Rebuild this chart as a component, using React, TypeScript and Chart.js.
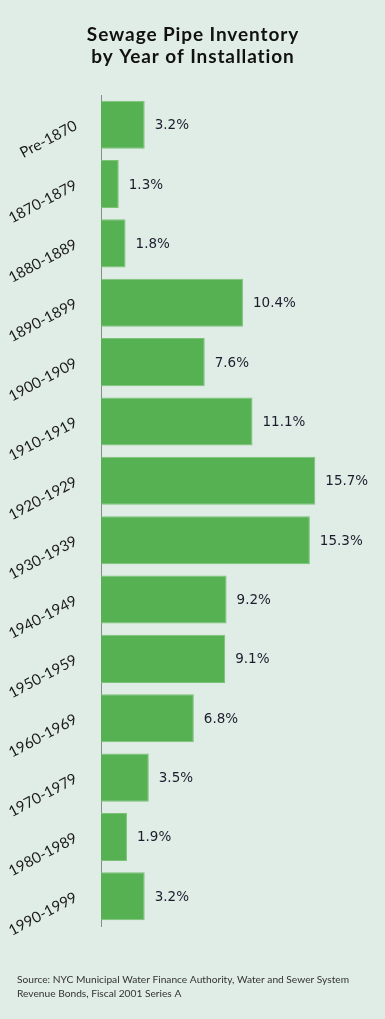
import React, { useEffect, useRef } from "react";
import { Chart, registerables } from "chart.js";

Chart.register(...registerables);

const categories = [
  "Pre-1870", "1870-1879", "1880-1889", "1890-1899", "1900-1909", "1910-1919", "1920-1929",
  "1930-1939", "1940-1949", "1950-1959", "1960-1969", "1970-1979", "1980-1989", "1990-1999",
];
const percentages = [3.2, 1.3, 1.8, 10.4, 7.6, 11.1, 15.7, 15.3, 9.2, 9.1, 6.8, 3.5, 1.9, 3.2];
const titleLines = ["Sewage Pipe Inventory", "by Year of Installation"];
const sourceLines = [
  "Source: NYC Municipal Water Finance Authority, Water and Sewer System",
  "Revenue Bonds, Fiscal 2001 Series A",
];

const BG = "#e0ede6";
const BAR = "#56b152";

const textPlugin = {
  id: "texts",
  afterDatasetsDraw(chart: any) {
    const ctx = chart.ctx;
    ctx.save();
    // value labels
    const meta = chart.getDatasetMeta(0);
    ctx.font = "13.5px 'DejaVu Sans'";
    ctx.fillStyle = "#1c1c2c";
    ctx.textAlign = "left";
    ctx.textBaseline = "middle";
    meta.data.forEach((bar: any, i: number) => {
      ctx.fillText(percentages[i].toFixed(1) + "%", bar.x + 10, bar.y + 1);
    });
    // title
    ctx.font = "bold 19px Lato";
    (ctx as any).letterSpacing = "0.9px";
    ctx.fillStyle = "#111";
    ctx.textAlign = "center";
    ctx.textBaseline = "alphabetic";
    titleLines.forEach((t, i) => ctx.fillText(t, 193, 41 + i * 22));
    (ctx as any).letterSpacing = "0px";
    // source
    ctx.font = "10.2px Lato";
    ctx.fillStyle = "#333";
    ctx.textAlign = "left";
    sourceLines.forEach((t, i) => ctx.fillText(t, 17, 983 + i * 14));
    ctx.restore();
  },
};

export default function App() {
  const ref = useRef<HTMLCanvasElement>(null);
  useEffect(() => {
    document.body.style.margin = "0";
    const chart = new Chart(ref.current!, {
      type: "bar",
      data: {
        labels: categories,
        datasets: [
          {
            data: percentages,
            backgroundColor: BAR,
            borderColor: "#79c276",
            borderWidth: 1,
            barPercentage: 0.9,
            categoryPercentage: 0.9,
          },
        ],
      },
      options: {
        indexAxis: "y",
        animation: false,
        responsive: false,
        events: [],
        layout: { padding: { top: 95, bottom: 93, left: 0, right: 11 } },
        plugins: { legend: { display: false }, tooltip: { enabled: false }, title: { display: false } },
        scales: {
          x: { display: false, min: 0, max: 20 },
          y: {
            grid: { display: false },
            border: { display: true, color: "#8a8a8a", width: 1 },
            ticks: {
              color: "#1a1a1a",
              font: { family: "Lato", size: 15 },
              minRotation: 28,
              maxRotation: 28,
              padding: 17,
            },
            afterFit: (scale: any) => {
              scale.width = 101;
            },
          },
        },
      },
      plugins: [textPlugin],
    });
    return () => chart.destroy();
  }, []);
  return (
    <div style={{ width: 385, height: 1019, background: BG }}>
      <canvas ref={ref} width={385} height={1019} style={{ display: "block" }} />
    </div>
  );
}
